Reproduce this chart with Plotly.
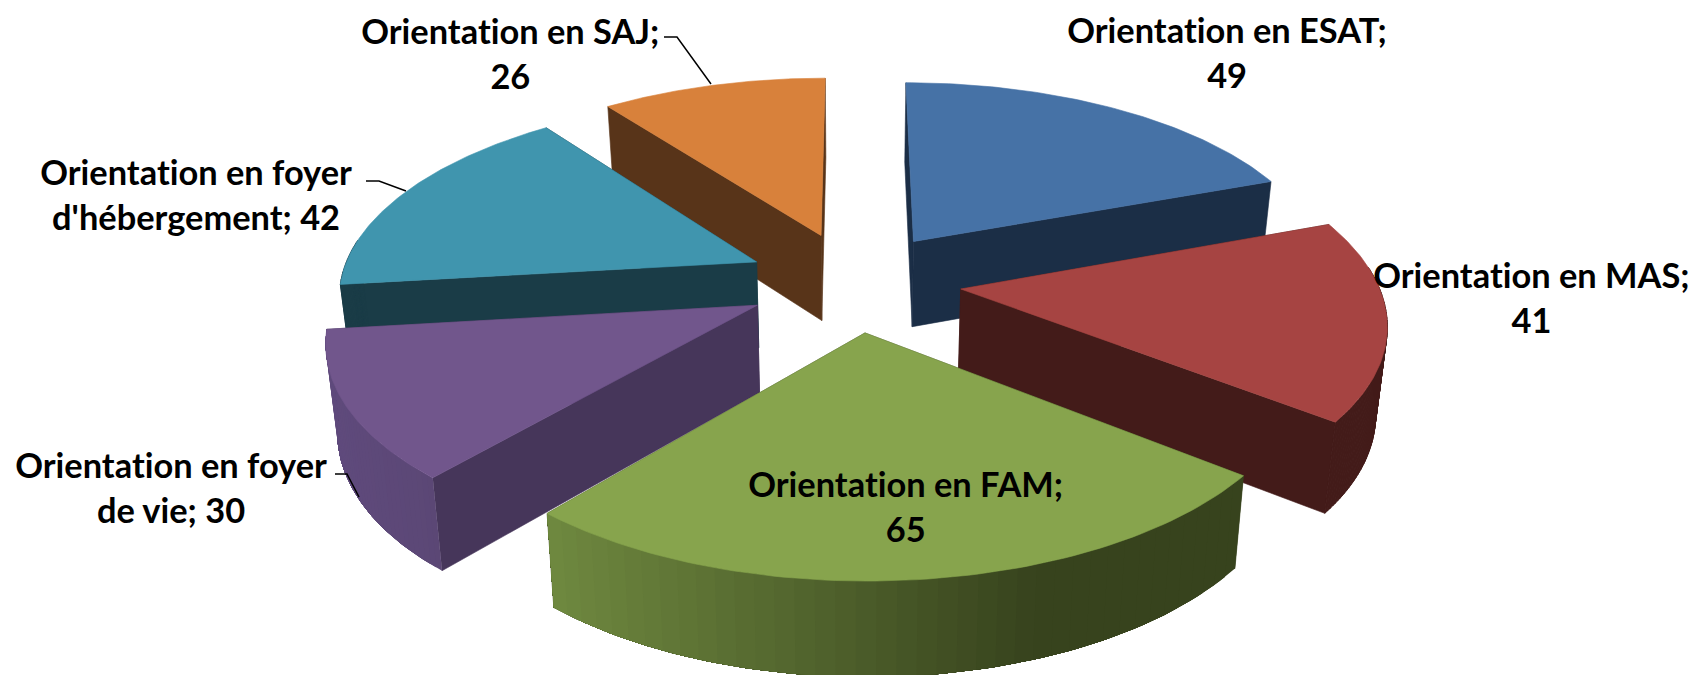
import math
import plotly.graph_objects as go

# ---- data ----
categories = ["Orientation en ESAT", "Orientation en MAS", "Orientation en FAM",
              "Orientation en foyer de vie", "Orientation en foyer d'hébergement", "Orientation en SAJ"]
values = [49, 41, 65, 30, 42, 26]
label_texts = ["Orientation en ESAT;<br>49", "Orientation en MAS;<br>41", "Orientation en FAM;<br>65",
               "Orientation en foyer<br>de vie; 30", "Orientation en foyer<br>d'hébergement; 42",
               "Orientation en SAJ;<br>26"]
top_colors = ["#4672A6", "#A64442", "#87A44D", "#71568C", "#4095AE", "#D8813B"]
wall_colors = ["#1B2E46", "#431B19", "#37431D", "#46365A", "#1A3C47", "#583419"]
draw_order = [0, 5, 4, 1, 3, 2]

# ---- layout / projection settings (pixels of the 1696x675 page) ----
W, H = 1696, 675
S = 1696 / 1568
CX, CY, R0, A, P, PULL = 789.5 * S, 260 * S, 385 * S, 179 * S, 0.15, 0.258
X_SHRINK, DEPTH = 0.978, 80 * S
label_pos = [(1134, 48), (1416, 275), (837, 468), (158, 450), (181, 179), (472, 49)]
leaders = [
    ([664, 677, 711], [37, 37, 84]),
    ([366, 379, 406], [181, 181, 191]),
    ([335, 347, 359], [474, 474, 497]),
]


def project(x, y, bottom=False):
    w = 1 - P * y
    sx = CX + R0 * x / w
    sy = CY + A * y / w
    if bottom:
        sx = CX + (sx - CX) * X_SHRINK
        sy = sy + DEPTH * (1 / w) ** 0.5
    return sx, sy


def rim(theta_deg, off):
    t = math.radians(theta_deg)
    return off[0] + math.sin(t), off[1] - math.cos(t)


def mix(c1, c2, f):
    a = [int(c1[i:i + 2], 16) for i in (1, 3, 5)]
    b = [int(c2[i:i + 2], 16) for i in (1, 3, 5)]
    return "#%02x%02x%02x" % tuple(round(p + (q - p) * f) for p, q in zip(a, b))


def poly(fig, pts, color, edge=0.6):
    xs = [p[0] for p in pts] + [pts[0][0]]
    ys = [p[1] for p in pts] + [pts[0][1]]
    fig.add_trace(go.Scatter(x=xs, y=ys, mode="lines", fill="toself", fillcolor=color,
                             line=dict(color=color, width=edge), hoverinfo="skip", showlegend=False))


def wall_color(i, sx):
    if i == 2:   # FAM: light on the left, dark on the right
        f = min(1, max(0, (sx - 545) / (1045 - 545)))
        return mix("#708A40", wall_colors[2], f)
    if i == 3:   # foyer de vie: outer wall
        return mix("#5F4A7C", "#5B4775", min(1, max(0, (sx - 330) / 110)))
    return wall_colors[i]


total = sum(values)
starts, cum = [], 0
for v in values:
    starts.append(cum / total * 360)
    cum += v

fig = go.Figure()
for i in draw_order:
    a0 = starts[i]
    a1 = a0 + values[i] / total * 360
    mid = math.radians((a0 + a1) / 2)
    off = (PULL * math.sin(mid), -PULL * math.cos(mid))
    arc = [a0 + (a1 - a0) * k / 80 for k in range(81)]

    # radial walls: the one turned away from the viewer goes first
    walls = [(a0, -math.sin(math.radians(a0))), (a1, math.sin(math.radians(a1)))]
    walls.sort(key=lambda w: w[1])
    for ang, _ in walls:
        r = rim(ang, off)
        poly(fig, [project(*off), project(*r), project(*r, bottom=True), project(*off, bottom=True)],
             wall_colors[i])

    # outer wall, only the part facing the viewer
    front = [a for a in arc if math.cos(math.radians(a)) < 0.12]
    if i in (2, 3):
        # shaded: each band reaches to the end of the arc and the next one
        # paints over it, so no seams show
        for k in range(0, len(front) - 1, 2):
            tail = front[k:]
            upper = [project(*rim(a, off)) for a in tail]
            lower = [project(*rim(a, off), bottom=True) for a in reversed(tail)]
            poly(fig, upper + lower, wall_color(i, upper[0][0]), edge=0)
    else:
        # flat colour: one quad per step, so the silhouette bulges correctly
        for p_a, q_a in zip(front, front[1:]):
            p, q = rim(p_a, off), rim(q_a, off)
            poly(fig, [project(*p), project(*q), project(*q, bottom=True), project(*p, bottom=True)],
                 wall_colors[i], edge=1)

    # top face
    poly(fig, [project(*off)] + [project(*rim(a, off)) for a in arc], top_colors[i])

for xs, ys in leaders:
    fig.add_trace(go.Scatter(x=xs, y=ys, mode="lines", line=dict(color="#000000", width=1.5),
                             hoverinfo="skip", showlegend=False))

annotations = [dict(x=lx * S, y=ly * S, text=t, showarrow=False, xanchor="center", yanchor="middle",
                    align="center", xref="x", yref="y",
                    font=dict(family="Lato", size=34.4, color="#000000", weight="bold"))
               for (lx, ly), t in zip(label_pos, label_texts)]

fig.update_layout(
    width=W, height=H, margin=dict(l=0, r=0, t=0, b=0), autosize=False,
    paper_bgcolor="#FFFFFF", plot_bgcolor="#FFFFFF", showlegend=False,
    xaxis=dict(range=[0, W], visible=False, fixedrange=True),
    yaxis=dict(range=[H, 0], visible=False, fixedrange=True),
    annotations=annotations,
)
fig.write_html("out.html", config=dict(displayModeBar=False),
               post_script="document.body.style.margin='0';document.documentElement.style.overflow='hidden';"
                           "document.querySelectorAll('.annotation-text').forEach(function(e){"
                           "e.style.fontVariantLigatures='none';});")
